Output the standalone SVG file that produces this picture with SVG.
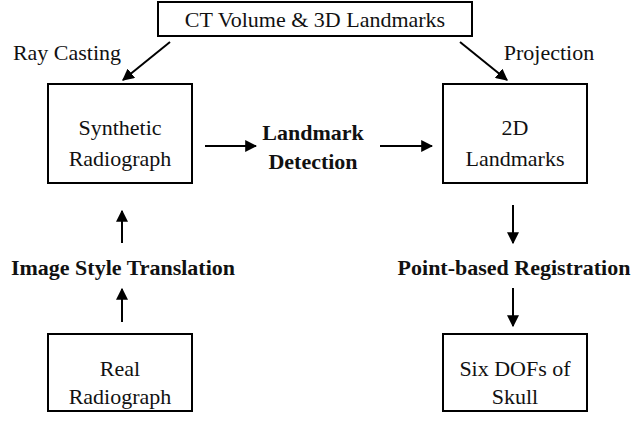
<svg xmlns="http://www.w3.org/2000/svg" width="640" height="430" viewBox="0 0 640 430">
<style>
.b{fill:#fff;stroke:#000;stroke-width:2}
.t{font-family:"Liberation Serif",serif;font-size:22px;text-anchor:middle;fill:#111}
.bt{font-family:"Liberation Serif",serif;font-size:22px;font-weight:bold;text-anchor:middle;fill:#111}
.c{stroke:#000;stroke-width:2;fill:none;marker-end:url(#a)}
</style>
<defs><marker id="a" viewBox="0 0 10 10" refX="9" refY="5" markerWidth="6" markerHeight="6" orient="auto"><path d="M0,0L10,5L0,10z" fill="#000"/></marker></defs>
<rect width="640" height="430" fill="#fff"/>
<g id="ct"><rect class="b" x="158" y="2" width="314" height="34"/><text class="t" x="315" y="27">CT Volume &amp; 3D Landmarks</text></g>
<g id="syn"><rect class="b" x="48" y="84" width="144" height="99"/><text class="t" x="120" y="135">Synthetic</text><text class="t" x="120" y="166">Radiograph</text></g>
<g id="lm2d"><rect class="b" x="443" y="84" width="144" height="99"/><text class="t" x="515" y="135">2D</text><text class="t" x="515" y="166">Landmarks</text></g>
<g id="real"><rect class="b" x="48" y="334" width="144" height="77"/><text class="t" x="120" y="376">Real</text><text class="t" x="120" y="404">Radiograph</text></g>
<g id="six"><rect class="b" x="443" y="334" width="144" height="77"/><text class="t" x="515" y="376">Six DOFs of</text><text class="t" x="515" y="404">Skull</text></g>
<g id="labels">
<text class="t" x="67" y="60">Ray Casting</text>
<text class="t" x="549" y="60">Projection</text>
<text class="bt" x="313" y="140">Landmark</text>
<text class="bt" x="313" y="169">Detection</text>
<text class="bt" x="123" y="275">Image Style Translation</text>
<text class="bt" x="514" y="275">Point-based Registration</text>
</g>
<g id="connectors">
<path class="c" d="M170,42L123,80"/>
<path class="c" d="M460,42L507,80"/>
<path class="c" d="M205,146L256,146"/>
<path class="c" d="M380,146L432,146"/>
<path class="c" d="M122,243L122,211"/>
<path class="c" d="M122,322L122,289"/>
<path class="c" d="M513,205L513,243"/>
<path class="c" d="M513,288L513,326"/>
</g>
</svg>
